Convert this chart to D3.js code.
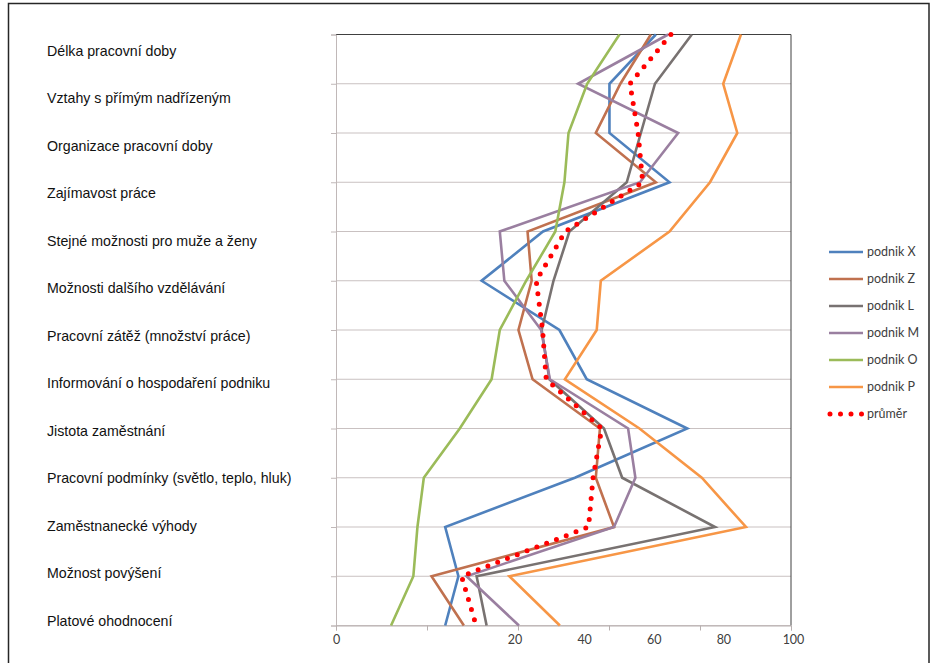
<!DOCTYPE html>
<html>
<head>
<meta charset="utf-8">
<script src="https://cdn.jsdelivr.net/npm/d3@7"></script>
<style>
  body { margin: 0; background: #fff; }
  svg { display: block; }
</style>
</head>
<body>
<script>
  // categories, top to bottom
  const categories = [
    'Délka pracovní doby',
    'Vztahy s přímým nadřízeným',
    'Organizace pracovní doby',
    'Zajímavost práce',
    'Stejné možnosti pro muže a ženy',
    'Možnosti dalšího vzdělávání',
    'Pracovní zátěž (množství práce)',
    'Informování o hospodaření podniku',
    'Jistota zaměstnání',
    'Pracovní podmínky (světlo, teplo, hluk)',
    'Zaměstnanecké výhody',
    'Možnost povýšení',
    'Platové ohodnocení'
  ];
  const seriesNames = ['podnik X', 'podnik Z', 'podnik L', 'podnik M', 'podnik O', 'podnik P', 'průměr'];
  const podnikX = [70.3, 60.1, 60.1, 73.3, 45.5, 32.0, 49.1, 55.1, 77.2, 52.5, 24.0, 26.9, 24.0];
  const podnikZ = [69.2, 62.5, 57.1, 70.3, 42.1, 43.0, 40.1, 43.2, 58.0, 57.1, 61.1, 21.0, 28.1];
  const podnikL = [78.2, 70.1, 67.0, 63.9, 51.3, 47.8, 45.2, 46.9, 58.9, 62.9, 83.3, 30.9, 33.1];
  const podnikM = [73.0, 53.2, 75.2, 66.8, 36.0, 37.0, 45.1, 47.0, 64.2, 65.8, 61.1, 28.7, 40.2];
  const podnikO = [62.3, 55.2, 51.1, 50.2, 48.2, 41.8, 36.0, 34.2, 27.2, 19.3, 17.9, 17.0, 12.1];
  const podnikP = [89.0, 85.1, 88.2, 82.2, 73.3, 58.2, 57.3, 50.3, 66.7, 80.4, 90.1, 38.1, 49.2];
  const prumer  = [73.6, 64.6, 66.4, 67.4, 50.4, 44.0, 45.4, 46.2, 58.4, 56.5, 55.5, 27.6, 30.8];
  const xTicks = [0, 20, 40, 60, 80, 100];

  const seriesValues = [podnikX, podnikZ, podnikL, podnikM, podnikO, podnikP, prumer];
  const colors = ['#4f81bd', '#c0714f', '#787271', '#9a7fa0', '#9bbb59', '#f79646', '#ff0000'];

  const W = 931, H = 663;
  const plot = {left: 336, right: 791, top: 34.5, bottom: 625.5};

  const svg = d3.select('body').append('svg')
    .attr('width', W).attr('height', H);

  // outer frame (image border)
  svg.append('path')
    .attr('d', `M8.5,${H + 5} V3.5 H929 V${H + 5}`)
    .attr('fill', 'none').attr('stroke', '#262626').attr('stroke-width', 1.5);

  const x = d3.scaleLinear().domain([0, 100]).range([plot.left, plot.right]);
  const y = d3.scalePoint().domain(categories).range([plot.top, plot.bottom]);
  // the category labels sit on their own spacing
  const yLabel = d3.scalePoint().domain(categories).range([51, 621]);
  // tick labels are placed unevenly in the source picture
  const xLabel = d3.scaleLinear().domain([0, 20, 100]).range([336, 514.5, 793]);

  // horizontal gridlines
  svg.append('g').selectAll('line').data(categories).enter().append('line')
    .attr('x1', plot.left).attr('x2', plot.right)
    .attr('y1', d => y(d)).attr('y2', d => y(d))
    .attr('stroke', (d, i) => i === 0 ? '#404040' : '#c9c1c1')
    .attr('stroke-width', 1);

  // right border
  svg.append('line')
    .attr('x1', plot.right).attr('x2', plot.right)
    .attr('y1', plot.top).attr('y2', plot.bottom)
    .attr('stroke', '#404040').attr('stroke-width', 1);

  // left axis (ticks only)
  const yAxis = svg.append('g')
    .attr('transform', `translate(${plot.left},0)`)
    .call(d3.axisLeft(y).tickSize(5).tickFormat(''));
  yAxis.selectAll('line, path').attr('stroke', '#c0b8b8');

  // bottom axis (ticks only)
  const xAxis = svg.append('g')
    .attr('transform', `translate(0,${plot.bottom})`)
    .call(d3.axisBottom(x).tickValues(xTicks).tickSize(5).tickFormat(''));
  xAxis.selectAll('line, path').attr('stroke', '#b8b0b0');

  // bottom tick labels
  const xLab = svg.append('g')
    .attr('transform', `translate(0,${plot.bottom + 7})`)
    .call(d3.axisBottom(xLabel).tickValues(xTicks).tickSize(0));
  xLab.select('.domain').remove();
  xLab.selectAll('text')
    .attr('font-family', 'Lato, "Open Sans", sans-serif')
    .attr('font-size', 12.5).attr('fill', '#404040');

  // category labels
  svg.append('g').selectAll('text').data(categories).enter().append('text')
    .attr('x', 47).attr('y', d => yLabel(d))
    .attr('dy', '0.35em')
    .attr('font-family', '"Liberation Sans", Arial, sans-serif')
    .attr('font-size', 14.2).attr('fill', '#111')
    .text(d => d);

  // lines
  const line = d3.line()
    .x(d => x(d.v))
    .y(d => y(d.c));

  const series = seriesNames.map((name, i) => ({
    name: name,
    color: colors[i],
    dotted: name === 'průměr',
    values: seriesValues[i].map((v, j) => ({c: categories[j], v: v}))
  }));

  svg.append('g').selectAll('path').data(series).enter().append('path')
    .attr('d', d => line(d.values))
    .attr('fill', 'none')
    .attr('stroke', d => d.color)
    .attr('stroke-width', d => d.dotted ? 5 : 2.6)
    .attr('stroke-linejoin', 'miter')
    .attr('stroke-linecap', d => d.dotted ? 'round' : 'butt')
    .attr('stroke-dasharray', d => d.dotted ? '0 10.5' : null);

  // legend
  const legend = svg.append('g').selectAll('g').data(series).enter().append('g')
    .attr('transform', (d, i) => `translate(829,${252 + i * 27})`);
  legend.append('line')
    .attr('x1', d => d.dotted ? 1 : 0).attr('x2', 34)
    .attr('stroke', d => d.color)
    .attr('stroke-width', d => d.dotted ? 5 : 2.6)
    .attr('stroke-linecap', d => d.dotted ? 'round' : 'butt')
    .attr('stroke-dasharray', d => d.dotted ? '0 10.5' : null);
  legend.append('text')
    .attr('x', 38).attr('dy', '0.35em')
    .attr('font-family', 'Lato, "Open Sans", sans-serif')
    .attr('font-size', 12.5).attr('fill', '#404040')
    .text(d => d.name);
</script>
</body>
</html>
